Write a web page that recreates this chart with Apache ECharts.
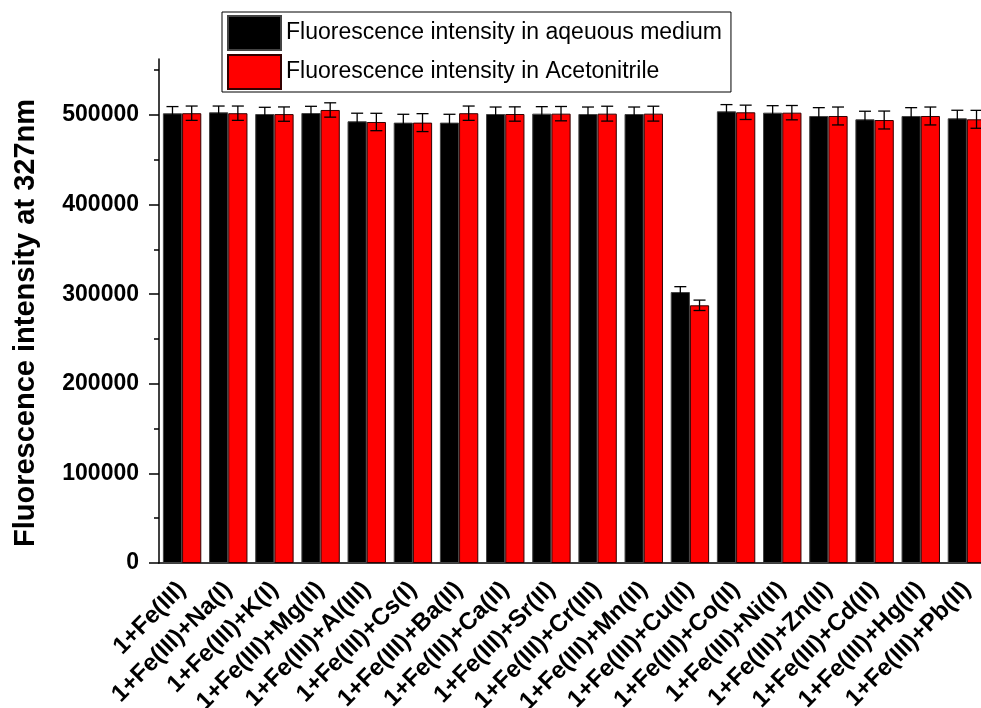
<!DOCTYPE html>
<html><head><meta charset="utf-8">
<script src="https://cdn.jsdelivr.net/npm/echarts@6/dist/echarts.min.js"></script>
<style>html,body{margin:0;padding:0;background:#fff}#c{width:981px;height:708px}</style>
</head><body><div id="c"></div>
<script>
const categories = ['1+Fe(III)','1+Fe(III)+Na(I)','1+Fe(III)+K(I)','1+Fe(III)+Mg(II)','1+Fe(III)+Al(III)','1+Fe(III)+Cs(I)','1+Fe(III)+Ba(II)','1+Fe(III)+Ca(II)','1+Fe(III)+Sr(II)','1+Fe(III)+Cr(III)','1+Fe(III)+Mn(II)','1+Fe(III)+Cu(II)','1+Fe(III)+Co(II)','1+Fe(III)+Ni(II)','1+Fe(III)+Zn(II)','1+Fe(III)+Cd(II)','1+Fe(III)+Hg(II)','1+Fe(III)+Pb(II)'];
const aqueous = [501900, 503000, 501100, 502200, 493000, 491500, 491500, 501100, 501500, 501100, 501100, 302400, 504100, 502600, 498900, 495200, 498900, 496300];
const aqueousErr = [7500, 7000, 7500, 7500, 9000, 9300, 9300, 7800, 7800, 7800, 7800, 6000, 7500, 7800, 9300, 9000, 9300, 9000];
const acetonitrile = [502000, 502000, 501000, 505600, 492200, 491500, 502000, 501100, 501500, 501500, 501500, 287600, 503000, 502600, 498900, 494400, 498900, 495200];
const acetonitrileErr = [8000, 8000, 8000, 8000, 9700, 10000, 8000, 8000, 8000, 8300, 8300, 5800, 8000, 8000, 10000, 10000, 10000, 10000];
const majorTicks = [0, 100000, 200000, 300000, 400000, 500000];
const minorTicks = [50000, 150000, 250000, 350000, 450000, 550000];
const seriesNames = ['Fluorescence intensity in aqeuous medium', 'Fluorescence intensity in Acetonitrile'];
const yTitle = 'Fluorescence intensity at 327nm';

const FONT = '"Liberation Sans", Arial, sans-serif';
const chart = echarts.init(document.getElementById('c'), null, {renderer: 'canvas'});

function errRenderer(offsetFrac) {
  return function (params, api) {
    const idx = api.value(0);
    const v = api.value(1), e = api.value(2);
    const band = api.size([1, 0])[0];
    const c = api.coord([idx, v]);
    const x = c[0] + offsetFrac * band;
    const top = api.coord([idx, v + e])[1];
    const bot = api.coord([idx, v - e])[1];
    const hw = 6;
    const st = {stroke: '#000', lineWidth: 1.3};
    return {type: 'group', children: [
      {type: 'line', shape: {x1: x, y1: top, x2: x, y2: bot}, style: st},
      {type: 'line', shape: {x1: x - hw, y1: top, x2: x + hw, y2: top}, style: st},
      {type: 'line', shape: {x1: x - hw, y1: bot, x2: x + hw, y2: bot}, style: st}
    ]};
  };
}

const option = {
  animation: false,
  backgroundColor: '#fff',
  textStyle: {fontFamily: FONT},
  grid: {left: 159, top: 59, width: 831, height: 504, containLabel: false, outerBoundsMode: 'none'},
  legend: {
    orient: 'vertical', left: 222, top: 12,
    data: seriesNames,
    icon: 'rect',
    itemWidth: 53, itemHeight: 34, itemGap: 3,
    borderColor: '#000', borderWidth: 1,
    padding: [3, 9, 2, 5],
    textStyle: {fontFamily: FONT, fontSize: 23, color: '#000'},
    selectedMode: false
  },
  graphic: [{
    type: 'text', x: 26, y: 323, rotation: Math.PI / 2,
    style: {text: yTitle, fontWeight: 'bold', fontSize: 29, fontFamily: 'Liberation Sans', fill: '#000', align: 'center', verticalAlign: 'middle'}
  }],
  xAxis: [{
    type: 'category', data: categories, position: 'bottom',
    axisLine: {lineStyle: {color: '#000', width: 1.5}},
    axisTick: {alignWithLabel: true, length: 10, lineStyle: {color: '#000', width: 1.5}},
    axisLabel: {rotate: 45, interval: 0, margin: 23, color: '#000', fontWeight: 'bold', fontSize: 24, fontFamily: FONT},
    splitLine: {show: false}
  }, {
    type: 'category', data: categories, position: 'bottom',
    axisLine: {show: false},
    axisTick: {length: 6, lineStyle: {color: '#000', width: 1.5}},
    axisLabel: {show: false},
    splitLine: {show: false}
  }],
  yAxis: [{
    type: 'value', min: 0, max: 562500, position: 'left',
    axisLine: {show: true, lineStyle: {color: '#000', width: 1.5}},
    axisTick: {show: true, length: 10, customValues: majorTicks, lineStyle: {color: '#000', width: 1.5}},
    axisLabel: {customValues: majorTicks, formatter: v => String(v), color: '#000', fontWeight: 'bold', fontSize: 23, fontFamily: FONT, margin: 20},
    splitLine: {show: false}
  }, {
    type: 'value', min: 0, max: 562500, position: 'left',
    axisLine: {show: false},
    axisTick: {show: true, length: 5, customValues: minorTicks, lineStyle: {color: '#000', width: 1.5}},
    axisLabel: {show: false},
    splitLine: {show: false}
  }],
  series: [{
    name: seriesNames[0], type: 'bar', data: aqueous,
    barWidth: '41.6%', barGap: '0%',
    itemStyle: {color: '#000', borderColor: '#444', borderWidth: 1}
  }, {
    name: seriesNames[1], type: 'bar', data: acetonitrile,
    barWidth: '41.6%', barGap: '0%',
    itemStyle: {color: '#ff0000', borderColor: '#300', borderWidth: 1}
  }, {
    type: 'custom', renderItem: errRenderer(-0.208), z: 5,
    encode: {x: 0, y: 1},
    data: categories.map((c, i) => [i, aqueous[i], aqueousErr[i]])
  }, {
    type: 'custom', renderItem: errRenderer(0.208), z: 5,
    encode: {x: 0, y: 1},
    data: categories.map((c, i) => [i, acetonitrile[i], acetonitrileErr[i]])
  }]
};
chart.setOption(option);
</script>
</body></html>
